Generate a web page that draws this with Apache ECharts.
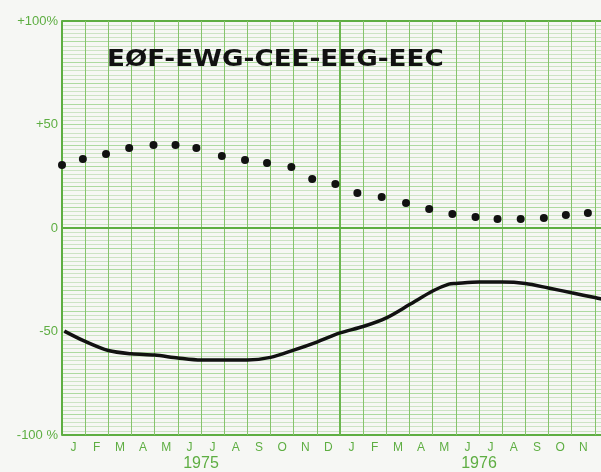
<!DOCTYPE html>
<html>
<head>
<meta charset="utf-8">
<script src="https://cdn.jsdelivr.net/npm/echarts@6/dist/echarts.min.js"></script>
<style>html,body{margin:0;padding:0;background:#f6f7f4;overflow:hidden;width:601px;height:472px;}#c{width:620px;height:472px;}</style>
</head>
<body>
<div id="c"></div>
<script>
const titleText = 'EØF-EWG-CEE-EEG-EEC';
const monthLabels = ['J','F','M','A','M','J','J','A','S','O','N','D','J','F','M','A','M','J','J','A','S','O','N','D'];
const yearLabels = ['1975','1976'];
const yTickLabels = {'100':'+100%','50':'+50','0':'0','-50':'-50','-100':'-100 %'};
const dotMonths = [0,0.9,1.9,2.9,3.95,4.9,5.8,6.9,7.9,8.85,9.9,10.8,11.8,12.75,13.8,14.85,15.85,16.85,17.85,18.8,19.8,20.8,21.75,22.7];
const dotValues = [30.4,33.3,35.7,38.6,40.1,40.1,38.6,34.8,32.9,31.4,29.5,23.7,21.3,16.9,15.0,12.1,9.2,6.8,5.3,4.3,4.3,4.8,6.3,7.2];
const lineMonths = [0.1,1,2,3,4,5,6,7,8,9,10,11,12,13,14,15,16,16.7,17,18,19,20,21,22,23,23.3];
const lineValues = [-49.8,-54.8,-59.2,-60.8,-61.4,-62.8,-63.8,-63.8,-63.8,-62.5,-59.0,-55.1,-50.7,-47.6,-43.4,-37.0,-30.4,-27.1,-26.8,-26.1,-26.1,-26.8,-29.0,-31.3,-33.6,-34.3];

const green = '#5eae42';
const chart = echarts.init(document.getElementById('c'), null, {renderer:'canvas'});
chart.setOption({
  backgroundColor:'#f6f7f4',
  animation:false,
  grid:{left:62, top:21, bottom:37, width:556, containLabel:false},
  graphic:[{
    type:'text', x:107, y:60, scaleX:1.14, z:100,
    style:{text:titleText, font:'bold 23px "DejaVu Sans"', fill:'#111', verticalAlign:'middle', align:'left'}
  }],
  xAxis:[
    {type:'category', data:monthLabels, boundaryGap:true, position:'bottom',
     axisLine:{show:true, lineStyle:{color:green, width:2}}, axisTick:{show:false},
     axisLabel:{interval:0, color:green, fontSize:12, fontFamily:'Liberation Sans', margin:7},
     splitLine:{show:true, interval:0, lineStyle:{color:'#86c46c', width:1}}},
    {type:'category', data:yearLabels, boundaryGap:true, position:'bottom', offset:15,
     axisLine:{show:false}, axisTick:{show:false},
     axisLabel:{interval:0, color:green, fontSize:16, fontFamily:'Liberation Sans', margin:6},
     splitLine:{show:true, interval:0, lineStyle:{color:'#6cb650', width:2}}},
    {type:'value', min:0, max:24, show:false, splitLine:{show:false}}
  ],
  yAxis:[
    {type:'value', min:-100, max:100, interval:10,
     axisLine:{show:true, lineStyle:{color:green, width:2}}, axisTick:{show:false},
     axisLabel:{color:green, fontSize:13, fontFamily:'Liberation Sans', margin:4, padding:[0,0,7,0],
       formatter:function(v){ return yTickLabels[String(v)] || ''; }},
     splitLine:{show:true, lineStyle:{color:'#addaa0', width:1}},
     minorTick:{show:false, splitNumber:5},
     minorSplitLine:{show:true, lineStyle:{color:'#cce3c4', width:1}}},
    {type:'value', min:-100, max:100, interval:100, position:'left',
     axisLine:{show:false}, axisTick:{show:false}, axisLabel:{show:false},
     splitLine:{show:true, lineStyle:{color:green, width:2}}}
  ],
  series:[
    {type:'line', xAxisIndex:2, yAxisIndex:0, data:lineMonths.map((m,i)=>[m,lineValues[i]]),
     smooth:0.3, showSymbol:false, lineStyle:{color:'#111', width:3.5}, z:5},
    {type:'scatter', xAxisIndex:2, yAxisIndex:0, data:dotMonths.map((m,i)=>[m,dotValues[i]]),
     symbolSize:8, itemStyle:{color:'#111', opacity:1}, z:6}
  ]
});
</script>
</body>
</html>
